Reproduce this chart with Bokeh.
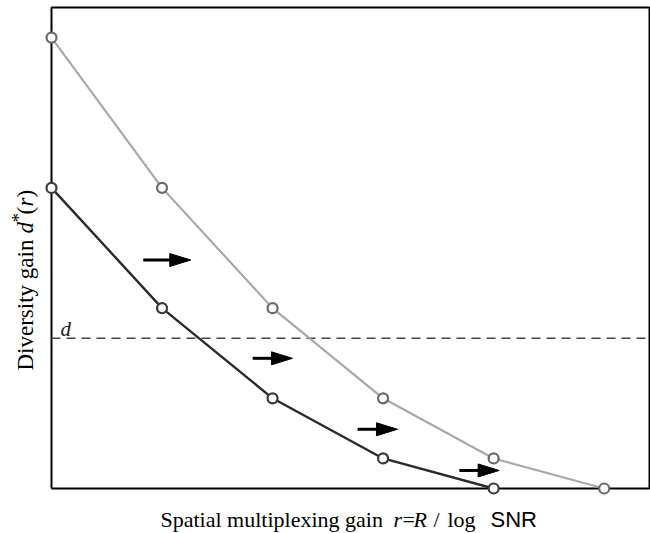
import math
from bokeh.plotting import figure
from bokeh.models import Range1d, Label
from bokeh.embed import file_html
from bokeh.resources import INLINE

# ---- data ----
r_outer = [0, 1, 2, 3, 4, 5]
d_outer = [15, 10, 6, 3, 1, 0]
r_inner = [0, 1, 2, 3, 4]
d_inner = [10, 6, 3, 1, 0]
d_target = 5
arrow_x0 = [0.83, 1.82, 2.77, 3.69]
arrow_x1 = [1.26, 2.18, 3.13, 4.05]
arrow_y = [7.6, 4.33, 1.97, 0.6]

# ---- layout (pixels) ----
W, H = 650, 533
ML, MR, MT, MB = 51, 1, 7, 45
XMAX, YMAX = 5.41, 16
fw = W - ML - MR
fh = H - MT - MB
px_x = fw / XMAX
px_y = fh / YMAX

p = figure(width=W, height=H, output_backend="svg", toolbar_location=None,
           x_range=Range1d(-ML / px_x, XMAX + MR / px_x),
           y_range=Range1d(-MB / px_y, YMAX + MT / px_y),
           x_axis_location=None, y_axis_location=None,
           min_border=0)
p.grid.grid_line_color = None
p.outline_line_color = None
p.background_fill_color = "white"
p.border_fill_color = "white"

# plot box
p.line([0, XMAX, XMAX, 0, 0], [0, 0, YMAX, YMAX, 0], line_color="black", line_width=2)

# dashed threshold
p.line([0, XMAX], [d_target, d_target], line_color="#444444", line_width=1.5, line_dash="9 6")

# curves
p.line(r_outer, d_outer, line_color="#a8a8a8", line_width=2.2)
p.line(r_inner, d_inner, line_color="#2a2a2a", line_width=2.4)
p.scatter(r_outer, d_outer, marker="circle", size=10, line_width=2.2,
          line_color="#6a6a6a", fill_color="white")
p.scatter(r_inner, d_inner, marker="circle", size=10, line_width=2.2,
          line_color="#3a3a3a", fill_color="white")

# arrows
head_len = 21 / px_x
head_hw = 6.5 / px_y
xs_head, ys_head, sx0, sx1 = [], [], [], []
for x0, x1, y in zip(arrow_x0, arrow_x1, arrow_y):
    xs_head.append([x1 - head_len, x1, x1 - head_len])
    ys_head.append([y + head_hw, y, y - head_hw])
    sx0.append(x0)
    sx1.append(x1 - head_len + 2 / px_x)
p.segment(x0=sx0, y0=arrow_y, x1=sx1, y1=arrow_y, line_color="black", line_width=3)
p.patches(xs_head, ys_head, fill_color="black", line_color="black", line_width=1)

SERIF = "Liberation Serif"
SANS = "Liberation Sans"

# d label near dashed line
p.add_layout(Label(x=9 / px_x, y=d_target, y_offset=9, text="d", text_font=SERIF,
                   text_font_style="italic", text_font_size="21px", text_color="#222222",
                   text_baseline="middle"))

# x axis label pieces (pixels relative to the plot box corner)
xl_base = -31
xpieces = [
    ("Spatial multiplexing gain", 109, SERIF, "normal"),
    ("r", 342, SERIF, "italic"),
    ("=", 351, SERIF, "normal"),
    ("R", 362, SERIF, "italic"),
    ("/", 382, SERIF, "normal"),
    ("log", 396, SERIF, "normal"),
    ("SNR", 439, SANS, "normal"),
]
for t, xo, f, st in xpieces:
    p.add_layout(Label(x=0, y=0, x_offset=xo, y_offset=xl_base, text=t, text_font=f,
                       text_font_style=st, text_font_size="22px", text_color="black",
                       text_align="left", text_baseline="middle"))

# y axis label pieces (rotated)
yl_base = -26
ypieces = [
    ("Diversity gain", 118, 0, SERIF, "normal", "23px"),
    ("d", 255, 0, SERIF, "italic", "23px"),
    ("*", 266, -7, SERIF, "normal", "19px"),
    ("(", 274, 0, SERIF, "normal", "23px"),
    ("r", 282, 0, SERIF, "italic", "23px"),
    (")", 291, 0, SERIF, "normal", "23px"),
]
for t, yo, dx, f, st, fs in ypieces:
    p.add_layout(Label(x=0, y=0, x_offset=yl_base + dx, y_offset=yo, text=t, text_font=f,
                       text_font_style=st, text_font_size=fs, text_color="black",
                       angle=math.pi / 2, text_align="left", text_baseline="middle"))

open("out.html", "w").write(file_html(p, INLINE))
